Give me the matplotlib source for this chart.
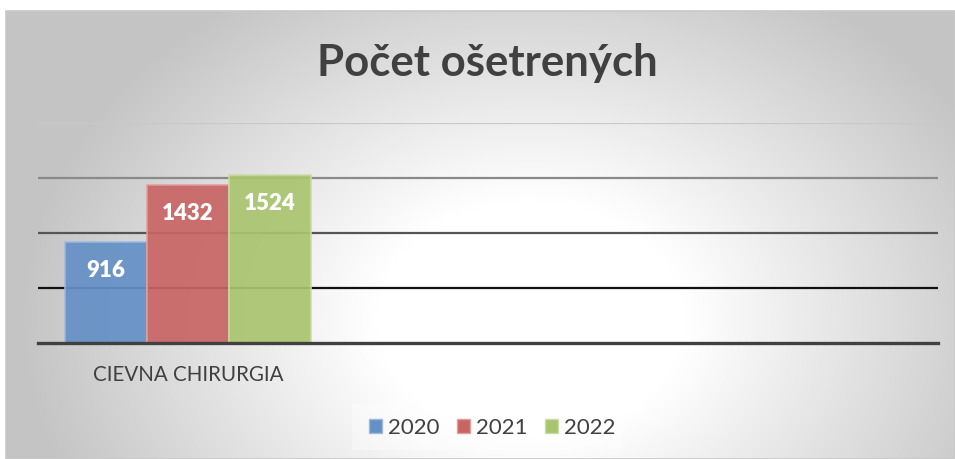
import numpy as np
import matplotlib
matplotlib.use("Agg")
import matplotlib.pyplot as plt
from matplotlib.patches import Rectangle

# ---- data ----
categories = ["CIEVNA CHIRURGIA", "", ""]
years = ["2020", "2021", "2022"]
values_2020 = [916, None, None]
values_2021 = [1432, None, None]
values_2022 = [1524, None, None]
series = [values_2020, values_2021, values_2022]
title = "Počet ošetrených"
y_levels = [0, 500, 1000, 1500, 2000]

colors = ["#6490C6", "#C86564", "#A9C46F"]
edge_colors = ["#9DB9DD", "#E09E9D", "#C9DCA2"]
grid_colors = ["#111111", "#555555", "#8a8a8a", "#c8c8c8"]

W, H = 955, 459
fig = plt.figure(figsize=(W / 100, H / 100), dpi=100)
fig.patch.set_facecolor("white")

# ---- background radial gradient ----
bg = fig.add_axes([6 / W, 0, 1 - 6 / W, (H - 11) / H])
bg.set_axis_off()
xs = np.linspace(6, W, 400)
ys = np.linspace(11, H, 200)
X, Y = np.meshgrid(xs, ys)
cx, cy, rx, ry = 530, 320, 520, 400
d = np.sqrt(((X - cx) / rx) ** 2 + ((Y - cy) / ry) ** 2)
t = np.clip((d - 0.3) / 0.68, 0, 1)
lo, hi = 1.0, 0.77
g = hi + (lo - hi) * (1 - t)
img = np.dstack([g, g, g])
bg.imshow(img, extent=[0, 1, 0, 1], aspect="auto", origin="upper")
bg.add_patch(Rectangle((0, 0), 1, 1, transform=bg.transAxes, fill=False,
                       edgecolor="#c8c8c8", lw=1.2, clip_on=False))
bg.set_xlim(0, 1)
bg.set_ylim(0, 1)

# legend faint box
fig.patches.append(Rectangle((352 / W, (H - 450) / H), 270 / W, 46 / H,
                             transform=fig.transFigure, facecolor="white",
                             alpha=0.35, edgecolor="none", zorder=1))

# ---- main axes ----
ax = fig.add_axes([38 / W, (H - 343) / H, 900 / W, 220 / H])
ax.set_facecolor("none")
ax.set_xlim(-0.5, len(categories) - 0.5)
ax.set_ylim(y_levels[0], y_levels[-1])

for lvl, c in zip(y_levels[1:], grid_colors):
    ax.axhline(lvl, color=c, lw=1.6, zorder=1)

bw = 0.274
offsets = [-bw, 0, bw]
x = np.arange(len(categories))
for vals, col, ec, off, yr in zip(series, colors, edge_colors, offsets, years):
    xv = [xi + off for xi, v in zip(x, vals) if v is not None]
    hv = [v for v in vals if v is not None]
    bars = ax.bar(xv, hv, width=bw, color=col, edgecolor=ec, linewidth=1.2,
                  alpha=0.92, zorder=2, label=yr)
    for b, v in zip(bars, hv):
        ax.annotate(str(v), (b.get_x() + b.get_width() / 2, v),
                    xytext=(0, -28), textcoords="offset pixels",
                    ha="center", va="center", color="white", fontsize=16,
                    fontweight="heavy", family="Lato", zorder=4)

for s in ["top", "left", "right"]:
    ax.spines[s].set_visible(False)
ax.spines["bottom"].set_color("#404040")
ax.spines["bottom"].set_linewidth(2.4)
ax.spines["bottom"].set_zorder(3)
ax.set_yticks([])
ax.set_xticks(x)
ax.set_xticklabels(categories, family="Lato", fontsize=14.8, color="#404040")
ax.tick_params(axis="x", length=0, pad=16)

fig.text(487 / W, 1 - 63 / H, title, ha="center", va="center",
         fontsize=31.5, fontweight="bold", color="#404040", family="Lato")

handles = [Rectangle((0, 0), 1, 1, facecolor=c, edgecolor=e, lw=1)
           for c, e in zip(colors, edge_colors)]
leg = fig.legend(handles, years, loc="center", bbox_to_anchor=(492 / W, 1 - 428 / H),
                 ncol=3, frameon=False, prop={"family": "Lato", "size": 16},
                 handlelength=0.6, handleheight=0.6, handletextpad=0.25,
                 columnspacing=0.8, borderpad=0.2)
for txt in leg.get_texts():
    txt.set_color("#404040")

fig.savefig("out.png", dpi=100)
